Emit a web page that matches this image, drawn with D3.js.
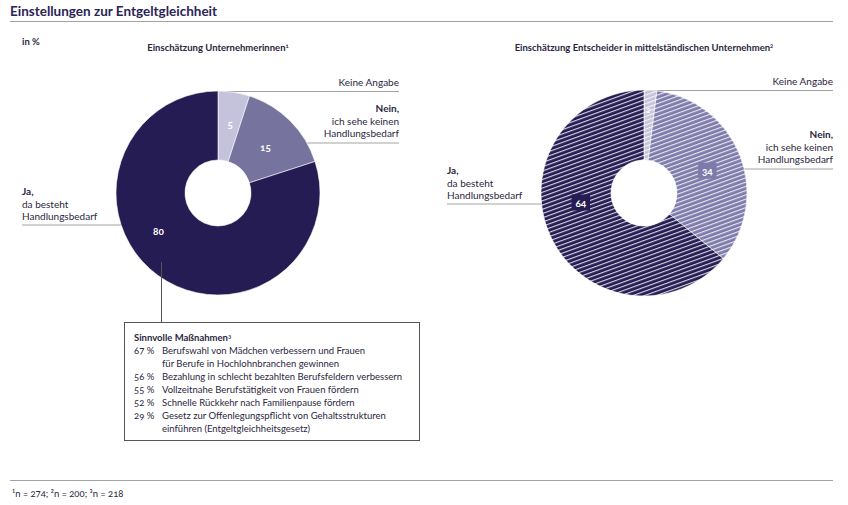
<!DOCTYPE html>
<html>
<head>
<meta charset="utf-8">
<script src="https://cdn.jsdelivr.net/npm/d3@7"></script>
<style>
  body { margin: 0; background: #fff; }
  svg text { font-family: Lato, "Open Sans", sans-serif; fill: #2b2640; font-variant-numeric: oldstyle-nums; }
</style>
</head>
<body>
<div id="chart"></div>
<script>
// data
var categories = ["Keine Angabe", "Nein", "Ja"];
var leftValues = [5, 15, 80];
var rightValues = [2, 34, 64];
var measurePcts = ["67 %", "", "56 %", "55 %", "52 %", "29 %", ""];
var measureTexts = [
  "Berufswahl von Mädchen verbessern und Frauen",
  "für Berufe in Hochlohnbranchen gewinnen",
  "Bezahlung in schlecht bezahlten Berufsfeldern verbessern",
  "Vollzeitnahe Berufstätigkeit von Frauen fördern",
  "Schnelle Rückkehr nach Familienpause fördern",
  "Gesetz zur Offenlegungspflicht von Gehaltsstrukturen",
  "einführen (Entgeltgleichheitsgesetz)"
];
var footnote = "¹n = 274; ²n = 200; ³n = 218";

var svgWidth = 848, svgHeight = 505;
var colors = ["#c5c3db", "#77739f", "#241c53"];
var lineColor = "#a3a3a3";

var svg = d3.select("#chart").append("svg")
  .attr("width", svgWidth)
  .attr("height", svgHeight);

// hatch patterns for the right donut
var defs = svg.append("defs");
colors.forEach(function(c, i) {
  var p = defs.append("pattern")
    .attr("id", "hatch" + i)
    .attr("patternUnits", "userSpaceOnUse")
    .attr("width", 4).attr("height", 4)
    .attr("patternTransform", "rotate(-20)");
  p.append("rect").attr("width", 4).attr("height", 4).attr("fill", i == 1 ? "#7e7baa" : c);
  p.append("line").attr("x1", 0).attr("x2", 4).attr("y1", 0.6).attr("y2", 0.6)
    .attr("stroke", "#fff").attr("stroke-width", 1.1).attr("stroke-opacity", 0.85);
});

// header
svg.append("text").attr("x", 10).attr("y", 16)
  .style("font-size", "13.5px").style("font-weight", "bold").style("fill", "#2a2456")
  .text("Einstellungen zur Entgeltgleichheit");
svg.append("line").attr("x1", 10).attr("x2", 833).attr("y1", 21.5).attr("y2", 21.5)
  .attr("stroke", lineColor).attr("stroke-width", 1);
svg.append("text").attr("x", 22).attr("y", 45)
  .style("font-size", "9.5px").style("font-weight", "bold").text("in %");

function donut(cfg) {
  var g = svg.append("g").attr("transform", `translate(${cfg.cx}, ${cfg.cy})`);
  var r = cfg.r;
  var pie = d3.pie().sort(null).value(d => d)(cfg.values);
  var arc = d3.arc().innerRadius(cfg.r0).outerRadius(r);

  svg.append("text").attr("x", cfg.cx).attr("y", 51)
    .attr("text-anchor", "middle")
    .style("font-size", "9.5px").style("font-weight", "bold")
    .text(cfg.title)
    .append("tspan").attr("dy", -3).style("font-size", "6px").text(cfg.sup);

  // leader lines
  function edgeX(y, side) {
    var dy = y - cfg.cy;
    return cfg.cx + side * Math.sqrt(Math.max(0, r * r - dy * dy));
  }
  var topY = cfg.cy - r + 0.5;
  g.append("line").attr("x1", 0).attr("x2", cfg.labelRight - cfg.cx)
    .attr("y1", topY - cfg.cy).attr("y2", topY - cfg.cy)
    .attr("stroke", lineColor);
  g.append("line").attr("x1", edgeX(cfg.neinY, 1) - cfg.cx).attr("x2", cfg.labelRight - cfg.cx)
    .attr("y1", cfg.neinY - cfg.cy).attr("y2", cfg.neinY - cfg.cy)
    .attr("stroke", lineColor);
  g.append("line").attr("x1", cfg.labelLeft - cfg.cx).attr("x2", edgeX(cfg.jaY, -1) - cfg.cx)
    .attr("y1", cfg.jaY - cfg.cy).attr("y2", cfg.jaY - cfg.cy)
    .attr("stroke", lineColor);

  g.selectAll("path.slice").data(pie).enter().append("path")
    .attr("class", "slice")
    .attr("d", arc)
    .attr("fill", (d, i) => cfg.hatched ? "url(#hatch" + i + ")" : colors[i])
    .attr("stroke", "#fff").attr("stroke-width", 0.6);

  // value labels
  pie.forEach(function(d, i) {
    var a = cfg.labelAngles[i] * Math.PI / 180;
    var lr = cfg.labelRadius[i];
    var x = Math.sin(a) * lr, y = -Math.cos(a) * lr;
    var fs = cfg.labelSize[i];
    if (cfg.hatched && i > 0) {
      var w = String(d.data).length * fs * 0.62 + 6;
      g.append("rect").attr("x", x - w / 2).attr("y", y - fs * 0.85).attr("width", w).attr("height", fs * 1.6)
        .attr("fill", i == 1 ? "#7e7baa" : colors[i]);
    }
    g.append("text").attr("x", x).attr("y", y + fs * 0.35)
      .attr("text-anchor", "middle")
      .style("font-size", fs + "px").style("font-weight", "bold").style("fill", "#fff")
      .text(d.data);
  });

  // category labels
  var fs = 10;
  svg.append("text").attr("x", cfg.labelRight).attr("y", topY - 6)
    .attr("text-anchor", "end").style("font-size", fs + "px").text(categories[0]);
  var nein = svg.append("text").attr("x", cfg.labelRight).attr("y", cfg.neinY - 31)
    .attr("text-anchor", "end").style("font-size", fs + "px");
  nein.append("tspan").attr("x", cfg.labelRight).style("font-weight", "bold").text(categories[1] + ",");
  nein.append("tspan").attr("x", cfg.labelRight).attr("dy", 12.5).text("ich sehe keinen");
  nein.append("tspan").attr("x", cfg.labelRight).attr("dy", 12.5).text("Handlungsbedarf");
  var ja = svg.append("text").attr("x", cfg.labelLeft).attr("y", cfg.jaY - 30)
    .style("font-size", fs + "px");
  ja.append("tspan").attr("x", cfg.labelLeft).style("font-weight", "bold").text(categories[2] + ",");
  ja.append("tspan").attr("x", cfg.labelLeft).attr("dy", 12.5).text("da besteht");
  ja.append("tspan").attr("x", cfg.labelLeft).attr("dy", 12.5).text("Handlungsbedarf");
}

donut({
  cx: 218, cy: 193, r: 102, r0: 33, values: leftValues, hatched: false,
  title: "Einschätzung Unternehmerinnen", sup: "1",
  labelRight: 399, labelLeft: 22, neinY: 143, jaY: 225,
  labelAngles: [10, 46, 237], labelRadius: [70, 66, 71], labelSize: [10, 10, 10]
});
donut({
  cx: 644, cy: 193, r: 103, r0: 33, values: rightValues, hatched: true,
  title: "Einschätzung Entscheider in mittelständischen Unternehmen", sup: "2",
  labelRight: 833, labelLeft: 447, neinY: 169, jaY: 204,
  labelAngles: [3, 71, 261], labelRadius: [83, 67, 64], labelSize: [7, 10, 10]
});

// measures box
var box = svg.append("g");
box.append("line").attr("x1", 161.5).attr("x2", 161.5).attr("y1", 262).attr("y2", 322)
  .attr("stroke", "#555").attr("stroke-width", 1);
box.append("rect").attr("x", 124.5).attr("y", 322.5).attr("width", 295).attr("height", 118)
  .attr("fill", "#fff").attr("stroke", "#555").attr("stroke-width", 1);
box.append("text").attr("x", 134).attr("y", 341)
  .style("font-size", "9.5px").style("font-weight", "bold")
  .text("Sinnvolle Maßnahmen")
  .append("tspan").attr("dy", -3).style("font-size", "6px").text("3");

var rowY = d3.scaleLinear().domain([0, 1]).range([354, 367]);
box.selectAll("text.pct").data(measurePcts).enter().append("text")
  .attr("class", "pct")
  .attr("x", 134).attr("y", (d, i) => rowY(i))
  .style("font-size", "9.5px").text(d => d);
box.selectAll("text.mt").data(measureTexts).enter().append("text")
  .attr("class", "mt")
  .attr("x", 162).attr("y", (d, i) => rowY(i))
  .style("font-size", "9.5px").text(d => d);

// footnote
svg.append("line").attr("x1", 10).attr("x2", 833).attr("y1", 480.5).attr("y2", 480.5)
  .attr("stroke", lineColor);
svg.append("text").attr("x", 12).attr("y", 497)
  .style("font-size", "9.5px").text(footnote);
</script>
</body>
</html>
